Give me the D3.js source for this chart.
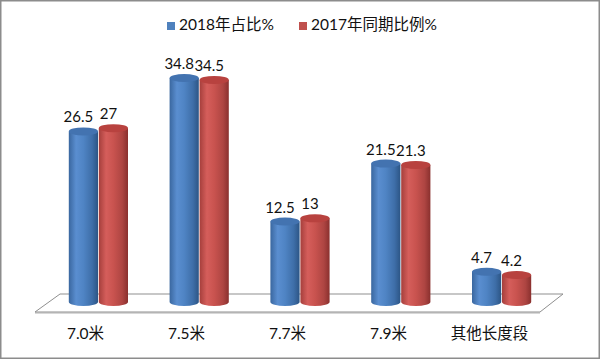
<!DOCTYPE html>
<html><head><meta charset="utf-8">
<script src="https://cdn.jsdelivr.net/npm/d3@7"></script>
<style>
html,body{margin:0;padding:0;background:#fff;}
svg{display:block;font-family:"Lato","Noto Sans CJK SC",sans-serif;}
</style></head>
<body>
<svg id="chart" width="600" height="359"></svg>
<script>
const categories = ["7.0米","7.5米","7.7米","7.9米","其他长度段"];
const seriesNames = ["2018年占比%","2017年同期比例%"];
const values2018 = [26.5,34.8,12.5,21.5,4.7];
const values2017 = [27,34.5,13,21.3,4.2];
const seriesColors = ["#4f81bd","#c0504d"];

const svg = d3.select("#chart");
const W = 600, H = 359;

// outer frame
svg.append("rect").attr("x",0.75).attr("y",0.75).attr("width",W-1.5).attr("height",H-1.5)
  .attr("fill","#fff").attr("stroke","#8c8c8c").attr("stroke-width",1.5);

// gradients
const defs = svg.append("defs");
const grads = [
  {id:"g0", stops:[["0%","#3a679f"],["25%","#5a8ed0"],["50%","#4f84c4"],["80%","#3e6ea8"],["100%","#2c5585"]], top:"#4373b0"},
  {id:"g1", stops:[["0%","#a53f3c"],["25%","#d55e5b"],["50%","#c9534f"],["80%","#ae4542"],["100%","#8a302e"]], top:"#b8423f"}
];
grads.forEach(g=>{
  const lg = defs.append("linearGradient").attr("id",g.id).attr("x1","0%").attr("x2","100%").attr("y1","0%").attr("y2","0%");
  g.stops.forEach(s=>lg.append("stop").attr("offset",s[0]).attr("stop-color",s[1]));
});

// scales
const floorBackY = 294, floorFrontY = 312;
const xBack = d3.scaleBand().domain(categories).range([60,563]);
const xFront = d3.scaleBand().domain(categories).range([35,540]);
const xMid = d3.scaleBand().domain(categories).range([48,552]);
const xInner = d3.scaleBand().domain(seriesNames).range([0, 60]);
const y = d3.scaleLinear().domain([0,35]).range([302, 76.7]);

// floor
const floorPts = [[xBack.range()[0],floorBackY],[xBack.range()[1],floorBackY],[xFront.range()[1],floorFrontY],[xFront.range()[0],floorFrontY]];
svg.append("path")
  .attr("d", d3.line()([floorPts[3],[floorPts[3][0],floorFrontY+2],[floorPts[2][0],floorFrontY+2],floorPts[2]]) + "Z")
  .attr("fill","#d8d8d8");
svg.append("path").attr("d", d3.line()(floorPts)+"Z")
  .attr("fill","#fff").attr("stroke","#8f8f8f").attr("stroke-width",1);

// bars
const rx = 14.6, ry = 4;
const seriesData = [values2018, values2017];
seriesData.forEach((vals, si)=>{
  const g = svg.append("g");
  categories.forEach((c,i)=>{
    const cx = xMid(c) + xMid.bandwidth()/2 - xInner.bandwidth() + xInner(seriesNames[si]) + xInner.bandwidth()/2;
    const yTop = y(vals[i]), yBot = y(0);
    g.append("path")
      .attr("d", `M${cx-rx},${yTop} L${cx-rx},${yBot} A${rx},${ry} 0 0 0 ${cx+rx},${yBot} L${cx+rx},${yTop} Z`)
      .attr("fill", `url(#${grads[si].id})`);
    g.append("ellipse").attr("cx",cx).attr("cy",yTop).attr("rx",rx).attr("ry",ry)
      .attr("fill", grads[si].top);
    svg.append("text").attr("x", cx-5).attr("y", yTop-ry-5)
      .attr("text-anchor","middle").attr("font-size",15).attr("fill","#111")
      .text(vals[i]);
  });
});

// x axis labels (front edge)
const axis = d3.axisBottom(xFront).tickSize(0).tickPadding(0);
const ax = svg.append("g").attr("transform",`translate(0,${floorFrontY+16})`).call(axis);
ax.select(".domain").remove();
ax.selectAll("text").attr("font-size",15.5).attr("fill","#111")
  .attr("font-family",'"Lato","Noto Sans CJK SC",sans-serif');

// legend
const legendX = [167, 299];
seriesNames.forEach((s,i)=>{
  svg.append("rect").attr("x",legendX[i]).attr("y",22).attr("width",8).attr("height",8).attr("fill",seriesColors[i]);
  svg.append("text").attr("x",legendX[i]+12).attr("y",30).attr("font-size",15.5).attr("fill","#111").text(s);
});
</script>
</body></html>
